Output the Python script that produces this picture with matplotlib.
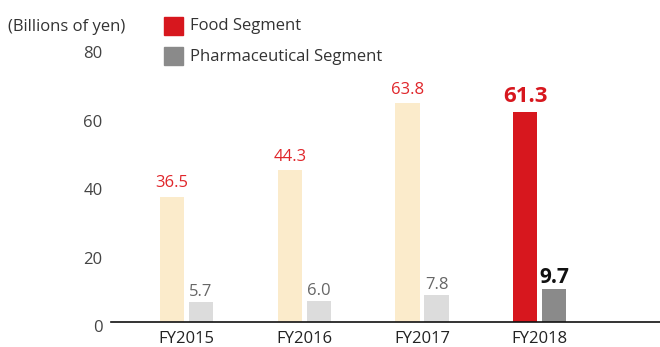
import numpy as np
import matplotlib.pyplot as plt
import matplotlib.transforms as mtransforms
from matplotlib.patches import Rectangle

plt.rcParams['font.family'] = ['Open Sans', 'DejaVu Sans']

years = ['FY2015', 'FY2016', 'FY2017', 'FY2018']
food = [36.5, 44.3, 63.8, 61.3]
pharma = [5.7, 6.0, 7.8, 9.7]

food_colors = ['#FBEBCB', '#FBEBCB', '#FBEBCB', '#D7171E']
pharma_colors = ['#DCDCDC', '#DCDCDC', '#DCDCDC', '#8A8A8A']

fig = plt.figure(figsize=(6.6, 3.47), dpi=100)
ax = fig.add_axes([111 / 660, 25 / 347, 549 / 660, 274 / 347])

x = np.arange(len(years))
w = 0.205
off = 0.123
ax.bar(x - off, food, w, color=food_colors)
ax.bar(x + off, pharma, w, color=pharma_colors)

for i in range(len(years)):
    last = i == len(years) - 1
    ax.annotate(f'{food[i]:.1f}', (x[i] - off, food[i]), xytext=(0, 7),
                textcoords='offset points', ha='center', va='baseline',
                color='#D7171E' if last else '#E0262B',
                fontsize=16 if last else 12, fontweight='bold' if last else 'normal')
    ax.annotate(f'{pharma[i]:.1f}', (x[i] + off, pharma[i]), xytext=(0, 4.5),
                textcoords='offset points', ha='center', va='baseline',
                color='#111111' if last else '#666666',
                fontsize=15 if last else 12, fontweight='bold' if last else 'normal')

ax.set_xlim(-0.64, 4.02)
ax.set_ylim(0, 80)
ax.set_xticks(x)
ax.set_xticklabels(years, fontsize=12, color='#222222')
ax.set_yticks([0, 20, 40, 60, 80])
ax.set_yticklabels(['0', '20', '40', '60', '80'], fontsize=12, color='#444444')
ax.tick_params(axis='both', length=0)
ax.tick_params(axis='y', pad=6)
ax.tick_params(axis='x', pad=6.5)
shift = mtransforms.ScaledTranslation(0, -3 / 72, fig.dpi_scale_trans)
for lbl in ax.get_yticklabels():
    lbl.set_transform(lbl.get_transform() + shift)
for side in ['top', 'right', 'left']:
    ax.spines[side].set_visible(False)
ax.spines['bottom'].set_color('#111111')
ax.spines['bottom'].set_linewidth(1.2)

# unit label and legend
fig.text(8 / 660, 1 - 27 / 347, '(Billions of yen)', fontsize=12, color='#333333', va='center')
fig.patches.append(Rectangle((164 / 660, 1 - 35 / 347), 19 / 660, 18 / 347,
                             transform=fig.transFigure, color='#D7171E'))
fig.patches.append(Rectangle((164 / 660, 1 - 65 / 347), 19 / 660, 18 / 347,
                             transform=fig.transFigure, color='#8A8A8A'))
fig.text(190 / 660, 1 - 26 / 347, 'Food Segment', fontsize=12, color='#333333', va='center')
fig.text(190 / 660, 1 - 57 / 347, 'Pharmaceutical Segment', fontsize=12, color='#333333',
         va='center')

fig.savefig('out.png', dpi=100)
